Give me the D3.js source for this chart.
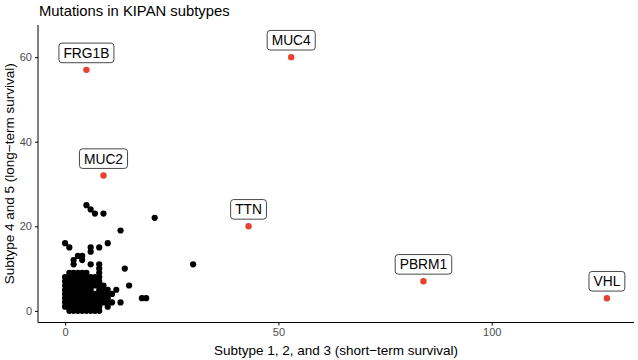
<!DOCTYPE html>
<html>
<head>
<meta charset="utf-8">
<script src="https://cdn.jsdelivr.net/npm/d3@7"></script>
<style>
body { margin: 0; background: #fff; }
text { font-family: "Liberation Sans", Arial, Helvetica, sans-serif; }
.axis path, .axis line { stroke: #000; }
.axis text { fill: #4d4d4d; font-size: 11px; }
</style>
</head>
<body>
<div id="chart"></div>
<script>
// highlighted genes
var genes = ["FRG1B", "MUC4", "MUC2", "TTN", "PBRM1", "VHL"];
var gene_short = [5, 53, 9, 43, 84, 127];
var gene_long = [57, 60, 32, 20, 7, 3];

// other genes, scattered outside the dense block
var other_short = [0, 1, 5, 6, 7, 9, 21, 13, 6, 6, 8, 10, 3, 4, 2, 4, 2, 6, 8, 30, 8, 14, 12, 15, 13, 18, 19, 11, 11];
var other_long = [16, 15, 25, 24, 23, 23, 22, 19, 15, 14, 15, 16, 13, 13, 12, 12, 11, 11, 11, 11, 10, 10, 5, 6, 2, 3, 3, 4, 2];

// dense block near the origin: for long-term count = index, the short-term counts seen
var block_short_by_long = [
    [1, 2, 3, 4, 5, 6, 7, 8],
    [0, 1, 2, 3, 4, 5, 6, 7, 8, 10],
    [0, 1, 2, 3, 4, 5, 6, 7, 8, 9, 10],
    [0, 1, 2, 3, 4, 5, 6, 7, 8, 9, 10],
    [0, 1, 2, 3, 4, 5, 6, 7, 8, 9, 10],
    [0, 1, 2, 3, 4, 5, 6, 8, 9, 10],
    [0, 1, 2, 3, 4, 5, 6, 7, 8, 9],
    [0, 1, 2, 3, 4, 5, 6, 7, 8],
    [0, 1, 2, 3, 4, 5, 6, 7, 8],
    [1, 2, 3, 4, 5, 8]
];

var x_ticks = [0, 50, 100];
var y_ticks = [0, 20, 40, 60];

var width = 638, height = 360;
var panel = { left: 38, right: 634, top: 25, bottom: 322.5 };

var svg = d3.select("#chart")
    .append("svg")
    .attr("width", width)
    .attr("height", height);

var xScale = d3.scaleLinear()
    .domain([-6.35, 133.35])
    .range([panel.left, panel.right]);

var yScale = d3.scaleLinear()
    .domain([-2.75, 67.6])
    .range([panel.bottom, panel.top]);

var other_data = [];
for (var i = 0; i < other_short.length; i++) {
    other_data.push({ x: other_short[i], y: other_long[i] });
}
block_short_by_long.forEach(function(xs, yv) {
    xs.forEach(function(xv) {
        other_data.push({ x: xv, y: yv });
    });
});

var gene_data = genes.map(function(g, i) {
    return { name: g, x: gene_short[i], y: gene_long[i] };
});

// axes
var xAxis = d3.axisBottom(xScale).tickValues(x_ticks).tickSize(3).tickPadding(3);
var yAxis = d3.axisLeft(yScale).tickValues(y_ticks).tickSize(3).tickPadding(3);

svg.append("g")
    .attr("class", "axis")
    .attr("transform", "translate(0," + panel.bottom + ")")
    .call(xAxis)
    .call(function(g) {
        g.select(".domain").attr("d", "M" + panel.left + ",0H" + panel.right);
        g.selectAll(".tick line").attr("stroke", "#333");
    });

svg.append("g")
    .attr("class", "axis")
    .attr("transform", "translate(" + panel.left + ",0)")
    .call(yAxis)
    .call(function(g) {
        g.select(".domain").attr("d", "M0," + panel.bottom + "V" + panel.top);
        g.selectAll(".tick line").attr("stroke", "#333");
    });

// points
svg.append("g")
    .selectAll("circle")
    .data(other_data)
    .enter()
    .append("circle")
    .attr("cx", function(d) { return xScale(d.x); })
    .attr("cy", function(d) { return yScale(d.y); })
    .attr("r", 3.1)
    .style("fill", "#000");

svg.append("g")
    .selectAll("circle")
    .data(gene_data)
    .enter()
    .append("circle")
    .attr("cx", function(d) { return xScale(d.x); })
    .attr("cy", function(d) { return yScale(d.y); })
    .attr("r", 3.2)
    .style("fill", "#e8412c");

// labels nudged up
var nudge = 4;
var labels = svg.append("g")
    .selectAll("g")
    .data(gene_data)
    .enter()
    .append("g")
    .attr("transform", function(d) {
        return "translate(" + xScale(d.x) + "," + yScale(d.y + nudge) + ")";
    });

labels.append("rect");
labels.append("text")
    .attr("text-anchor", "middle")
    .attr("dy", "0.36em")
    .style("font-size", "13.8px")
    .style("fill", "#000")
    .text(function(d) { return d.name; });

labels.each(function() {
    var g = d3.select(this);
    var w = g.select("text").node().getComputedTextLength();
    g.select("rect")
        .attr("x", -w / 2 - 4.5)
        .attr("y", -9.8)
        .attr("width", w + 9)
        .attr("height", 19.6)
        .attr("rx", 3)
        .style("fill", "#fff")
        .style("stroke", "#333")
        .style("stroke-width", 0.9);
});

// titles
svg.append("text")
    .attr("x", panel.left + 1)
    .attr("y", 16)
    .style("font-size", "14.8px")
    .style("fill", "#000")
    .text("Mutations in KIPAN subtypes");

svg.append("text")
    .attr("x", (panel.left + panel.right) / 2)
    .attr("y", 355)
    .attr("text-anchor", "middle")
    .style("font-size", "13.5px")
    .style("fill", "#000")
    .text("Subtype 1, 2, and 3 (short\u2212term survival)");

svg.append("text")
    .attr("transform", "translate(14," + (panel.top + panel.bottom) / 2 + ") rotate(-90)")
    .attr("text-anchor", "middle")
    .style("font-size", "13.5px")
    .style("fill", "#000")
    .text("Subtype 4 and 5 (long\u2212term survival)");
</script>
</body>
</html>
